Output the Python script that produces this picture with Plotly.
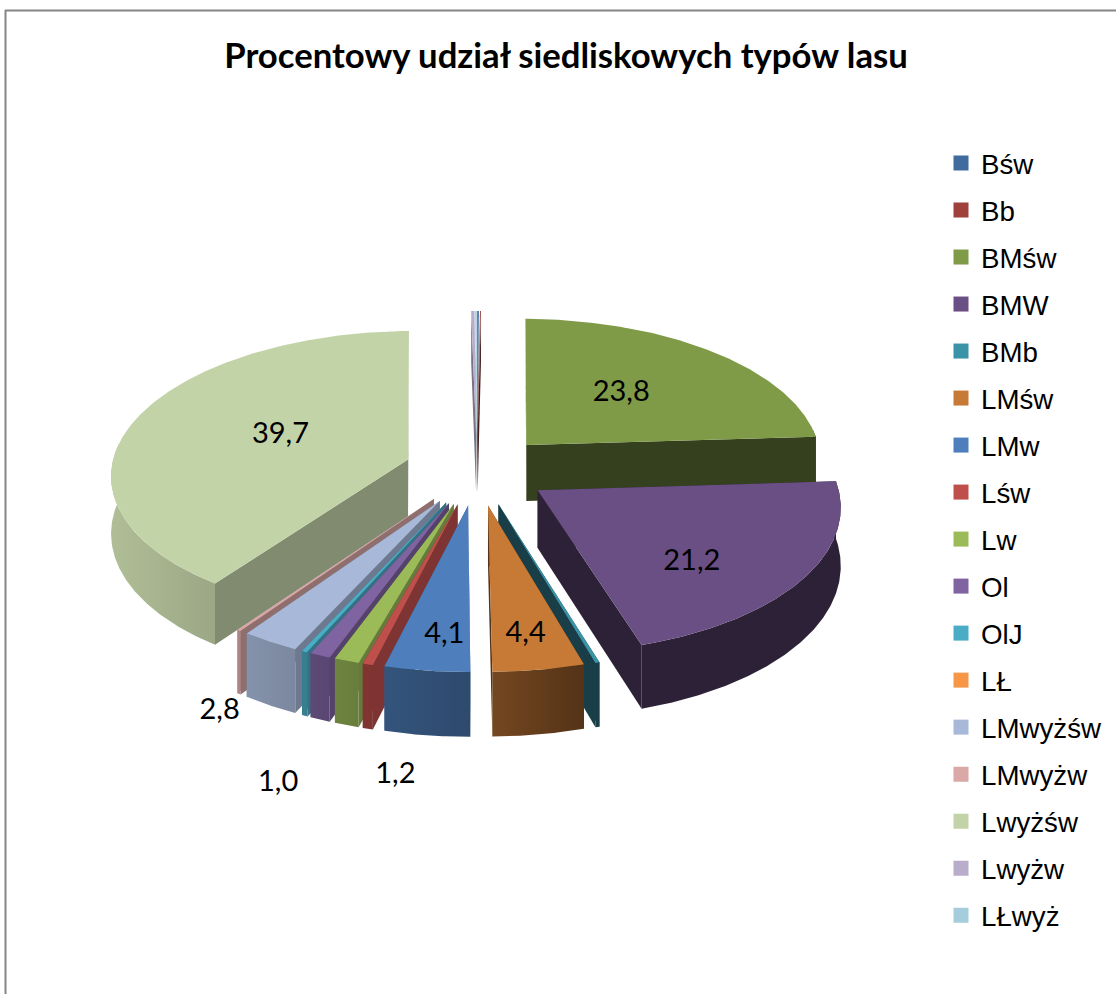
import numpy as np
import plotly.graph_objects as go

categories = ["Bśw", "Bb", "BMśw", "BMW", "BMb", "LMśw", "LMw", "Lśw", "Lw", "Ol", "OlJ", "LŁ",
              "LMwyżśw", "LMwyżw", "Lwyżśw", "Lwyżw", "LŁwyż"]
values = [0.1, 0.1, 23.8, 21.2, 0.2, 4.4, 4.1, 0.5, 1.2, 1.0, 0.3, 0.0, 2.8, 0.2, 39.7, 0.2, 0.1]
colors = ["#3F6B9E", "#A0403D", "#7F9B48", "#6A4F84", "#3B93A8", "#C77A36", "#4E7EBB", "#BF4F4B",
          "#9BBB59", "#8064A2", "#4BACC6", "#F79646", "#A7B8D8", "#D9A8A7", "#C3D3A8", "#B8AECB", "#A5CDDC"]
# labelled slices: category -> (distance from slice tip, angle in degrees)
label_places = {"BMśw": (0.5145, 41.8), "BMW": (0.67, 134.3), "LMśw": (0.80, 172), "LMw": (0.80, 185),
                "Lw": (1.55, 185.6), "Ol": (1.65, 196.2), "LMwyżśw": (1.39, 206.6), "Lwyżśw": (0.475, 291)}

# projection of the tilted pie
CX, CY, RX, RV, P, H, EXPLODE = 477, 470, 297, 143, 0.0963, 57, 0.245


def project(X, Y, Z=0.0):
    X, Y = np.asarray(X, float), np.asarray(Y, float)
    s = 1 / (1 + P * Y)
    return CX + RX * X * s, CY - RV * Y * s + H * Z * s


def shade(hex_color, f):
    r, g, b = (int(hex_color[i:i + 2], 16) for i in (1, 3, 5))
    return f"rgb({r * f:.0f},{g * f:.0f},{b * f:.0f})"


def wall_shade(deg):
    return float(np.interp(deg, [90, 165, 172, 187, 200, 211, 240, 270],
                           [.42, .42, .55, .62, .70, .78, .86, .90]))


def poly(xs, ys, **kw):
    return go.Scatter(x=list(xs), y=list(ys), mode="lines", fill="toself", line=dict(width=0),
                      hoverinfo="skip", showlegend=False, **kw)


total = sum(values)
edges = np.concatenate([[0], np.cumsum(values)]) / total * 360
slices = []
for name, v, col, a0, a1 in zip(categories, values, colors, edges[:-1], edges[1:]):
    if v <= 0:
        continue
    mid = np.radians((a0 + a1) / 2)
    slices.append(dict(name=name, col=col, a0=a0, a1=a1,
                       ax=EXPLODE * np.sin(mid), ay=EXPLODE * np.cos(mid)))
slices.sort(key=lambda d: -d["ay"])

fig = go.Figure()
for d in slices:
    a0, a1, ax, ay, col = d["a0"], d["a1"], d["ax"], d["ay"], d["col"]
    arc = np.linspace(a0, a1, max(8, int((a1 - a0) * 2)))
    ox, oy = ax + np.sin(np.radians(arc)), ay + np.cos(np.radians(arc))
    fx = 0.42 if ax > 0 else 0.66
    # radial faces
    for i in (0, -1):
        xt, yt = project([ax, ox[i]], [ay, oy[i]], 0)
        xb, yb = project([ax, ox[i]], [ay, oy[i]], 1)
        fig.add_trace(poly([xt[0], xt[1], xb[1], xb[0], xt[0]], [yt[0], yt[1], yb[1], yb[0], yt[0]],
                           fillcolor=shade(col, fx)))
    # outer curved wall
    keep = np.cos(np.radians(arc)) < 0.12
    if keep.sum() >= 2:
        wa, wx, wy = arc[keep], ox[keep], oy[keep]
        xt, yt = project(wx, wy, 0)
        xb, yb = project(wx, wy, 1)
        fig.add_trace(poly(np.r_[xt, xb[::-1], xt[0]], np.r_[yt, yb[::-1], yt[0]],
                           fillgradient=dict(type="horizontal", colorscale=[
                               [0, shade(col, wall_shade(wa[-1]))], [1, shade(col, wall_shade(wa[0]))]])))
    # top face
    xt, yt = project(np.r_[ax, ox, ax], np.r_[ay, oy, ay], 0)
    fig.add_trace(poly(xt, yt, fillcolor=col))

# data labels
tips = {d["name"]: d for d in slices}
lx, ly, lt = [], [], []
for name, (r, ang) in label_places.items():
    d = tips[name]
    x, y = project(d["ax"] + r * np.sin(np.radians(ang)), d["ay"] + r * np.cos(np.radians(ang)))
    lx.append(float(x)); ly.append(float(y))
    lt.append(f"{values[categories.index(name)]:.1f}".replace(".", ","))
fig.add_trace(go.Scatter(x=lx, y=ly, text=lt, mode="text", hoverinfo="skip", showlegend=False,
                         textposition="middle center",
                         textfont=dict(family="Lato", size=29, color="#000000")))

# legend entries
for i, (name, col) in enumerate(zip(categories, colors)):
    fig.add_trace(go.Scatter(x=[None], y=[None], mode="markers", name=name, legendgroup=name,
                             marker=dict(symbol="square", size=15, color=col)))

fig.update_layout(
    width=1116, height=994, margin=dict(l=0, r=0, t=0, b=0),
    paper_bgcolor="#FFFFFF", plot_bgcolor="#FFFFFF",
    xaxis=dict(range=[0, 1116], visible=False, fixedrange=True),
    yaxis=dict(range=[994, 0], visible=False, fixedrange=True),
    title=dict(text="<b>Procentowy udział siedliskowych typów lasu</b>", x=566 / 1116, y=1 - 56 / 994,
               xanchor="center", yanchor="middle", font=dict(family="Lato", size=34.7, color="#000000")),
    legend=dict(x=941 / 1116, y=1 - 138.5 / 994, xanchor="left", yanchor="top", bgcolor="rgba(0,0,0,0)",
                font=dict(family="Liberation Sans", size=27.7, color="#000000"), maxheight=900,
                tracegroupgap=8, itemclick=False, itemdoubleclick=False),
    shapes=[
        dict(type="line", xref="x", yref="y", x0=5.5, x1=5.5, y0=10, y1=994, line=dict(color="#868686", width=2)),
        dict(type="line", xref="x", yref="y", x0=5, x1=1116, y0=10.5, y1=10.5, line=dict(color="#868686", width=2)),
    ],
)
fig.write_html("out.html", post_script="document.body.style.margin='0';", config=dict(displayModeBar=False))
